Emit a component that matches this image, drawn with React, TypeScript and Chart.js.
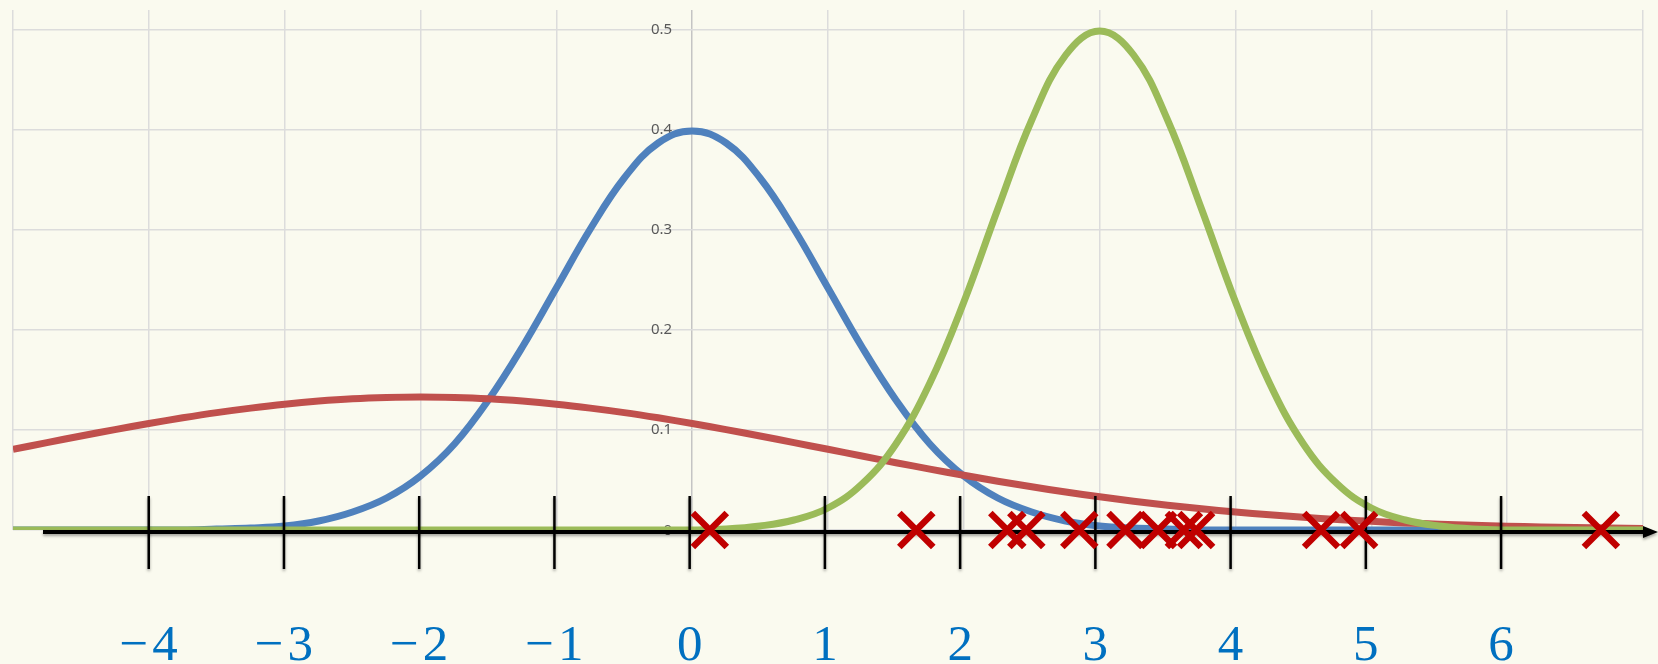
import { useEffect, useRef } from "react";
import { Chart, registerables } from "chart.js";

Chart.register(...registerables);

// Sample positions along the horizontal axis (step 0.25)
const X_SAMPLES = [
  -5, -4.75, -4.5, -4.25, -4, -3.75, -3.5, -3.25, -3, -2.75, -2.5, -2.25, -2,
  -1.75, -1.5, -1.25, -1, -0.75, -0.5, -0.25, 0, 0.25, 0.5, 0.75, 1, 1.25, 1.5,
  1.75, 2, 2.25, 2.5, 2.75, 3, 3.25, 3.5, 3.75, 4, 4.25, 4.5, 4.75, 5, 5.25, 5.5,
  5.75, 6, 6.25, 6.5, 6.75, 7,
];

// Blue curve (peak 0.4 at 0)
const BLUE_VALUES = [
  0, 0, 0, 0, 0, 0, 0.001, 0.002, 0.004, 0.009, 0.018, 0.032, 0.054, 0.086, 0.13,
  0.183, 0.242, 0.301, 0.352, 0.387, 0.399, 0.387, 0.352, 0.301, 0.242, 0.183,
  0.13, 0.086, 0.054, 0.032, 0.018, 0.009, 0.004, 0.002, 0.001, 0, 0, 0, 0, 0, 0,
  0, 0, 0, 0, 0, 0, 0, 0,
];

// Red curve (wide, peak ~0.133 at -2)
const RED_VALUES = [
  0.0807, 0.0874, 0.0940, 0.1004, 0.1065, 0.1122, 0.1174, 0.1219, 0.1258,
  0.1289, 0.1312, 0.1325, 0.133, 0.1325, 0.1312, 0.1289, 0.1258, 0.1219, 0.1174,
  0.1122, 0.1065, 0.1004, 0.094, 0.0874, 0.0807, 0.074, 0.0673, 0.0609, 0.0547,
  0.0488, 0.0432, 0.038, 0.0332, 0.0288, 0.0248, 0.0212, 0.018, 0.0152, 0.0127,
  0.0106, 0.0087, 0.0071, 0.0058, 0.0047, 0.0038, 0.003, 0.0024, 0.0019, 0.0015,
];

// Green curve (narrow, peak 0.5 at 3)
const GREEN_VALUES = [
  0, 0, 0, 0, 0, 0, 0, 0, 0, 0, 0, 0, 0, 0, 0, 0, 0, 0, 0, 0, 0, 0.001, 0.004,
  0.01, 0.022, 0.046, 0.086, 0.147, 0.228, 0.321, 0.41, 0.475, 0.499, 0.475,
  0.41, 0.321, 0.228, 0.147, 0.086, 0.046, 0.022, 0.01, 0.004, 0.001, 0, 0, 0, 0,
  0,
];

// Red cross markers on the axis
const SAMPLE_POINTS = [0.13, 1.65, 2.32, 2.46, 2.85, 3.19, 3.43, 3.62, 3.71, 4.63, 4.91, 6.69];

// Number line below the chart
const NUMBER_LINE_TICKS = [-4, -3, -2, -1, 0, 1, 2, 3, 4, 5, 6];
const NUMBER_LINE_LABELS = ["−4", "−3", "−2", "−1", "0", "1", "2", "3", "4", "5", "6"];

const X_MIN = -5;
const X_MAX = 7;
const Y_MIN = 0;
const Y_MAX = 0.52;
const Y_STEP = 0.1;

const SAMPLE_DATASET_INDEX = 3;

// the hand-drawn number line is very slightly compressed relative to the grid
const numberLineX = (xs: any, v: number) => xs.getPixelForValue(v) - 2.5 - 0.6 * v;

const decorPlugin = {
  id: "decor",
  beforeDraw(chart: any) {
    const { ctx, width, height } = chart;
    ctx.save();
    ctx.fillStyle = "#FAFAEF";
    ctx.fillRect(0, 0, width, height);
    ctx.restore();
  },
  beforeDatasetsDraw(chart: any) {
    const { ctx } = chart;
    const xs = chart.scales.x;
    const ys = chart.scales.y;
    const x0 = xs.getPixelForValue(0);
    ctx.save();
    ctx.font = '15px "Noto Sans"';
    ctx.fillStyle = "#595959";
    ctx.textAlign = "right";
    ctx.textBaseline = "middle";
    ys.ticks.forEach((t: any) => {
      const label = t.value === 0 ? "0" : t.value.toFixed(1);
      ctx.fillText(label, x0 - 20, ys.getPixelForValue(t.value) + (t.value === 0 ? 1 : 0));
    });
    ctx.restore();
  },
  beforeDatasetDraw(chart: any, args: any) {
    if (args.index !== SAMPLE_DATASET_INDEX) return;
    const { ctx } = chart;
    const xs = chart.scales.x;
    const ys = chart.scales.y;
    const yLine = ys.getPixelForValue(0) + 2;
    const xStart = xs.getPixelForValue(X_MIN) + 30;
    const xEnd = chart.width;
    ctx.save();
    ctx.shadowColor = "rgba(0,0,0,0.35)";
    ctx.shadowBlur = 3;
    ctx.shadowOffsetY = 2;
    ctx.strokeStyle = "#000";
    ctx.fillStyle = "#000";
    ctx.lineWidth = 4;
    ctx.beginPath();
    ctx.moveTo(xStart, yLine);
    ctx.lineTo(xEnd - 12, yLine);
    ctx.stroke();
    ctx.beginPath();
    ctx.moveTo(xEnd, yLine);
    ctx.lineTo(xEnd - 15, yLine - 6);
    ctx.lineTo(xEnd - 15, yLine + 6);
    ctx.closePath();
    ctx.fill();
    ctx.lineWidth = 2.5;
    NUMBER_LINE_TICKS.forEach((v) => {
      const px = numberLineX(xs, v);
      ctx.beginPath();
      ctx.moveTo(px, yLine - 36);
      ctx.lineTo(px, yLine + 37);
      ctx.stroke();
    });
    ctx.restore();

    ctx.save();
    ctx.font = '51px "Liberation Serif"';
    ctx.fillStyle = "#0070C0";
    ctx.textAlign = "center";
    ctx.textBaseline = "alphabetic";
    (ctx as any).letterSpacing = "4px";
    NUMBER_LINE_TICKS.forEach((v, i) => {
      const px = numberLineX(xs, v);
      ctx.fillText(NUMBER_LINE_LABELS[i], px + 2, 660);
    });
    ctx.restore();
  },
};

export default function App() {
  const canvasRef = useRef<HTMLCanvasElement | null>(null);

  useEffect(() => {
    document.body.style.margin = "0";
    const canvas = canvasRef.current;
    if (!canvas) return;

    const curve = (vals: number[]) => X_SAMPLES.map((x, i) => ({ x, y: vals[i] }));

    const chart = new Chart(canvas, {
      type: "line",
      data: {
        datasets: [
          {
            label: "green",
            data: curve(GREEN_VALUES),
            borderColor: "#9BBB59",
            borderWidth: 7,
            pointRadius: 0,
            tension: 0.4,
            order: 1,
          },
          {
            label: "red",
            data: curve(RED_VALUES),
            borderColor: "#C0504D",
            borderWidth: 7,
            pointRadius: 0,
            tension: 0.4,
            order: 2,
          },
          {
            label: "blue",
            data: curve(BLUE_VALUES),
            borderColor: "#4F81BD",
            borderWidth: 7,
            pointRadius: 0,
            tension: 0.4,
            order: 3,
          },
          {
            label: "samples",
            data: SAMPLE_POINTS.map((x) => ({ x, y: 0 })),
            showLine: false,
            pointStyle: "crossRot",
            pointRadius: 24,
            pointBorderWidth: 6.5,
            pointBorderColor: "#C00000",
            pointBackgroundColor: "#C00000",
            borderColor: "#C00000",
            clip: false,
            order: 0,
          } as any,
        ],
      },
      options: {
        responsive: false,
        animation: false,
        devicePixelRatio: 1,
        layout: { autoPadding: false, padding: { left: 13, right: 15, top: 10, bottom: 134 } },
        plugins: { legend: { display: false }, tooltip: { enabled: false } },
        scales: {
          x: {
            type: "linear",
            min: X_MIN,
            max: X_MAX,
            ticks: { display: false, stepSize: 1, includeBounds: false },
            grid: {
              drawTicks: false,
              lineWidth: 1.5,
              color: (c: any) => (c.tick && c.tick.value === 0 ? "#c4c4c4" : "#dcdcdc"),
            },
            border: { display: false },
          },
          y: {
            type: "linear",
            min: Y_MIN,
            max: Y_MAX,
            ticks: { display: false, stepSize: Y_STEP, includeBounds: false },
            grid: { drawTicks: false, lineWidth: 1.5, color: "#dcdcdc" },
            border: { display: false },
          },
        },
      },
      plugins: [decorPlugin],
    } as any);

    return () => chart.destroy();
  }, []);

  return (
    <div style={{ width: 1658, height: 664, background: "#FAFAEF" }}>
      <canvas ref={canvasRef} width={1658} height={664} style={{ display: "block" }} />
    </div>
  );
}
